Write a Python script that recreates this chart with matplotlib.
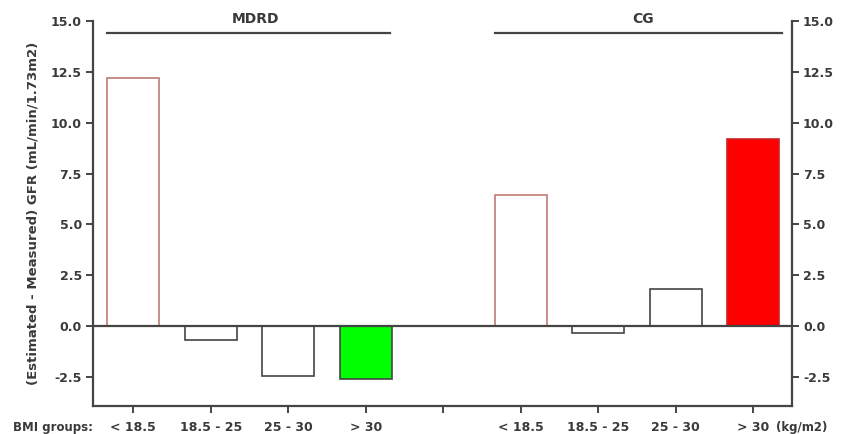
import matplotlib.pyplot as plt
import numpy as np

# BMI groups and the mean difference (estimated - measured GFR) per equation
bmi_groups = ["< 18.5", "18.5 - 25", "25 - 30", "> 30"]
mdrd_values = [12.2, -0.7, -2.45, -2.6]
cg_values = [6.45, -0.35, 1.8, 9.2]
y_ticks = [-2.5, 0.0, 2.5, 5.0, 7.5, 10.0, 12.5, 15.0]

text_color = "#3a3a3a"
line_color = "#444444"
edge_colors = ["#c07a72", line_color, line_color, line_color]
mdrd_fills = ["white", "white", "white", "#00ff00"]
cg_fills = ["white", "white", "white", "#ff0000"]

plt.rcParams["font.family"] = ["DejaVu Sans"]
plt.rcParams["font.weight"] = "bold"

fig = plt.figure(figsize=(8.45, 4.34), dpi=100)
ax = fig.add_axes([0.110, 0.0645, 0.827, 0.887])

n = len(bmi_groups)
mdrd_x = np.arange(n)
cg_x = np.arange(n) + n + 1
width = 0.67

ax.bar(mdrd_x, mdrd_values, width=width, color=mdrd_fills,
       edgecolor=edge_colors, linewidth=1.2, zorder=2)
ax.bar(cg_x, cg_values, width=width, color=cg_fills,
       edgecolor=edge_colors[:3] + ["#cc2222"], linewidth=1.2, zorder=2)

ax.axhline(0, color=line_color, linewidth=1.6, zorder=3)

ax.set_xlim(-0.52, 2 * n + 0.5)
ax.set_ylim(-3.93, 15.0)

# group header lines
ax.plot([mdrd_x[0] - width / 2, mdrd_x[-1] + 0.31], [14.4, 14.4],
        color=line_color, linewidth=1.6, clip_on=False)
ax.plot([cg_x[0] - width / 2, cg_x[-1] + 0.38], [14.4, 14.4],
        color=line_color, linewidth=1.6, clip_on=False)
ax.text(mdrd_x.mean() + 0.08, 14.75, "MDRD", ha="center", va="bottom",
        fontsize=10, color=text_color)
ax.text(cg_x.mean() + 0.08, 14.75, "CG", ha="center", va="bottom",
        fontsize=10, color=text_color)

xticks = list(mdrd_x) + [n] + list(cg_x)
ax.set_xticks(xticks)
ax.set_xticklabels(bmi_groups + [""] + bmi_groups)
ax.set_yticks(y_ticks)
ax.set_yticklabels([f"{v:.1f}" for v in y_ticks])

ax.tick_params(axis="both", direction="out", length=5, width=1.4,
               colors=line_color, labelcolor=text_color, labelsize=9)
ax.tick_params(axis="x", pad=6)
ax.tick_params(axis="y", right=True, labelright=True, pad=3)

for side in ["left", "bottom", "right"]:
    ax.spines[side].set_color(line_color)
    ax.spines[side].set_linewidth(1.6)
ax.spines["top"].set_visible(False)

ax.set_ylabel("(Estimated - Measured) GFR (mL/min/1.73m2)", fontsize=9.5,
              fontweight="bold", color=text_color, labelpad=8)

fig.text(0.015, 0.007, "BMI groups:", fontsize=8.5, color=text_color,
         ha="left", va="baseline")
fig.text(0.918, 0.007, "(kg/m2)", fontsize=8.5, color=text_color,
         ha="left", va="baseline")

fig.savefig("out.png", dpi=100)
